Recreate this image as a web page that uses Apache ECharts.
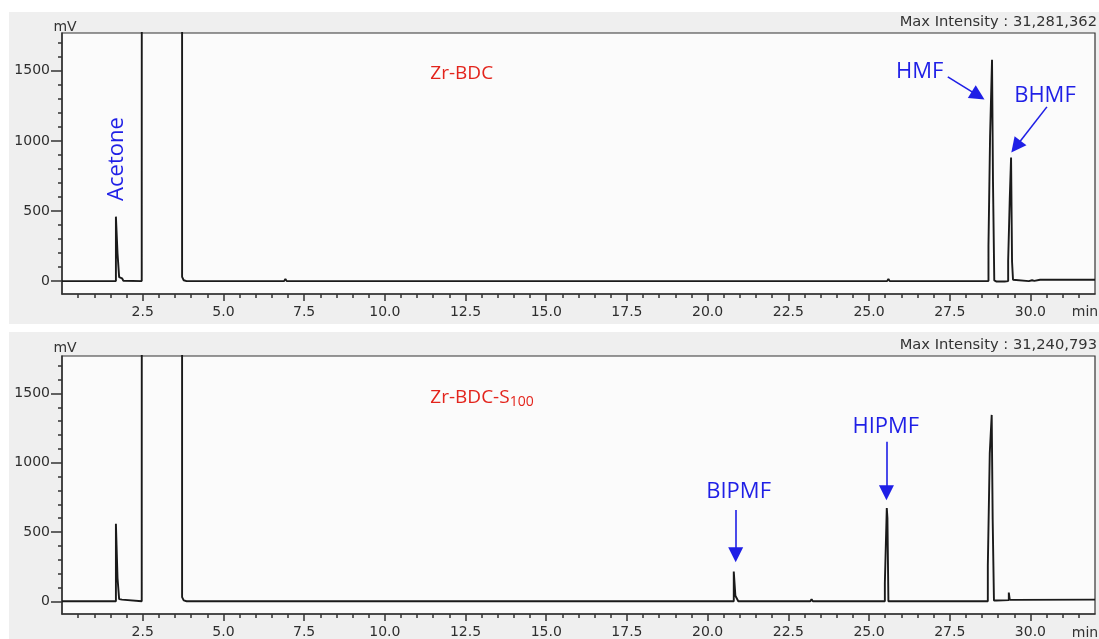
<!DOCTYPE html>
<html>
<head>
<meta charset="utf-8">
<title>Chromatograms: Zr-BDC and Zr-BDC-S100</title>
<script src="https://cdn.jsdelivr.net/npm/echarts@6/dist/echarts.min.js"></script>
<style>
  html, body { margin: 0; padding: 0; background: #ffffff; }
  #chart { width: 1099px; height: 639px; }
</style>
</head>
<body>
<div id="chart"></div>
<script>
// Detector signal (mV) against retention time (min) for each catalyst run.
// The solvent peak (2.5 - 3.7 min) runs far off scale and is clipped by the frame.
const zrBdcTrace = [
  [0, 0], [1.67, 0], [1.67, 460], [1.72, 458], [1.72, 198], [1.77, 196], [1.77, 28],
  [1.80, 22], [1.86, 20], [1.90, 3], [1.95, 0], [2.47, 0], [2.47, 788], [2.51, 792],
  [2.51, 30000], [3.72, 30000], [3.72, 30], [3.77, 6], [3.86, 0], [4.43, 0], [4.47, 10],
  [4.51, 0], [6.88, 0], [6.92, 16], [6.96, 0], [17.31, 0], [17.35, 8], [17.39, 0],
  [22.49, 0], [22.53, 5], [22.57, 0], [24.77, 0], [24.81, 8], [24.85, 0], [25.56, 0],
  [25.60, 16], [25.64, 0], [28.70, 0], [28.70, 250], [28.75, 250], [28.75, 1036],
  [28.81, 1036], [28.81, 1579], [28.84, 1579], [28.84, 709], [28.88, 705], [28.88, 5],
  [28.95, -3], [29.20, -3], [29.31, 0], [29.31, 145], [29.36, 145], [29.36, 591],
  [29.40, 591], [29.40, 881], [29.43, 881], [29.43, 140], [29.46, 138], [29.46, 10],
  [29.50, 0], [29.95, 0], [30.05, 6], [30.12, 2], [30.30, 10], [32, 10]
];

const zrBdcS100Trace = [
  [0, 0], [1.13, 0], [1.17, 10], [1.21, 0], [1.67, 0], [1.67, 560], [1.72, 556],
  [1.72, 168], [1.77, 165], [1.77, 15], [1.86, 12], [1.91, 0], [2.47, 0], [2.47, 800],
  [2.51, 805], [2.51, 30000], [3.72, 30000], [3.72, 30], [3.77, 6], [3.86, 0],
  [4.43, 0], [4.47, 8], [4.51, 0], [17.33, 0], [17.37, 6], [17.41, 0], [19.01, 0],
  [19.05, 10], [19.09, 0], [20.81, 0], [20.81, 215], [20.86, 212], [20.86, 40],
  [20.92, 35], [20.95, 0], [22.54, 0], [22.58, 7], [22.62, 0], [23.18, 0], [23.22, 15],
  [23.26, 0], [23.71, 0], [23.75, 9], [23.79, 0], [25.49, 0], [25.49, 132], [25.55, 132],
  [25.55, 673], [25.57, 601], [25.60, 601], [25.60, 0], [28.68, 0],
  [28.68, 259], [28.74, 259], [28.74, 1069], [28.80, 1069], [28.80, 1345], [28.83, 1345],
  [28.83, 594], [28.87, 594], [28.87, 5], [28.95, 5], [29.33, 8], [29.33, 63],
  [29.36, 50], [29.36, 10], [29.50, 10], [32, 12]
];

const maxIntensity = ['31,281,362', '31,240,793'];
const timeTicks = [2.5, 5, 7.5, 10, 12.5, 15, 17.5, 20, 22.5, 25, 27.5, 30];
const signalTicks = [0, 500, 1000, 1500];

// minor ticks: every 0.5 min and every 100 mV between the labelled ones
const timeMinorTicks = [];
for (let i = 1; i < 64; i++) { if (i % 5 !== 0) timeMinorTicks.push(i / 2); }
const signalMinorTicks = [];
for (let i = 1; i <= 17; i++) { if (i % 5 !== 0) signalMinorTicks.push(i * 100); }

const INK = '#1a1a1a';
const AXIS = '#333333';
const BLUE = '#1f1fe6';
const RED = '#e3241c';
const AX_FONT = 'DejaVu Sans';
const NOTE_FONT = 'Open Sans';

const chart = echarts.init(document.getElementById('chart'), null, { renderer: 'canvas' });

const gridBoxes = [
  { left: 62, top: 33, width: 1033, height: 261 },
  { left: 62, top: 356, width: 1033, height: 258 }
];

function timeAxes(gi) {
  return [
    {
      gridIndex: gi, type: 'value', min: 0, max: 32, position: 'bottom',
      axisLine: { show: true, onZero: false, lineStyle: { color: AXIS, width: 1.5 } },
      axisTick: { show: true, customValues: timeTicks, length: 7, lineStyle: { color: AXIS, width: 1.5 } },
      axisLabel: {
        customValues: timeTicks, formatter: v => v.toFixed(1), margin: 11,
        color: '#2e2e2e', fontSize: 14, fontFamily: AX_FONT
      },
      splitLine: { show: false }
    },
    {
      gridIndex: gi, type: 'value', min: 0, max: 32, position: 'bottom',
      axisLine: { show: false, onZero: false },
      axisTick: { show: true, customValues: timeMinorTicks, length: 4, lineStyle: { color: AXIS, width: 1.5 } },
      axisLabel: { show: false },
      splitLine: { show: false }
    }
  ];
}

function signalAxes(gi) {
  return [
    {
      gridIndex: gi, type: 'value', min: -92, max: 1770, position: 'left',
      axisLine: { show: true, onZero: false, lineStyle: { color: AXIS, width: 1.5 } },
      axisTick: { show: true, customValues: signalTicks, length: 11, lineStyle: { color: AXIS, width: 1.5 } },
      axisLabel: {
        customValues: signalTicks, formatter: v => String(v), margin: 12,
        color: '#2e2e2e', fontSize: 14, fontFamily: AX_FONT
      },
      splitLine: { show: false }
    },
    {
      gridIndex: gi, type: 'value', min: -92, max: 1770, position: 'left',
      axisLine: { show: false, onZero: false },
      axisTick: { show: true, customValues: signalMinorTicks, length: 4, lineStyle: { color: AXIS, width: 1.5 } },
      axisLabel: { show: false },
      splitLine: { show: false }
    }
  ];
}

function note(text, coord, size, color, extra) {
  return {
    coord: coord, symbol: 'circle', symbolSize: 1,
    itemStyle: { color: 'rgba(0,0,0,0)' },
    label: Object.assign({
      show: true, position: 'inside', formatter: text,
      color: color, fontSize: size, fontFamily: NOTE_FONT
    }, extra || {})
  };
}

function arrows(lines) {
  return {
    silent: true, animation: false,
    symbol: ['none', 'triangle'], symbolSize: 15,
    lineStyle: { color: BLUE, width: 1.6, type: 'solid' },
    itemStyle: { color: BLUE },
    label: { show: false },
    emphasis: { disabled: true },
    data: lines.map(([a, b]) => [{ coord: a }, { coord: b }])
  };
}

function traceSeries(data, axisIdx, notes, arrowLines) {
  return {
    type: 'line', xAxisIndex: axisIdx, yAxisIndex: axisIdx,
    data: data, showSymbol: false, symbol: 'none', clip: true,
    lineStyle: { color: INK, width: 1.9 },
    emphasis: { disabled: true },
    animation: false,
    markPoint: { silent: true, animation: false, data: notes },
    markLine: arrows(arrowLines)
  };
}

function panelText(x, y, text, align, size) {
  return {
    type: 'text', x: x, y: y, z: 10,
    style: {
      text: text, fill: '#333333', font: size + 'px "' + AX_FONT + '"',
      textAlign: align, textVerticalAlign: 'middle'
    }
  };
}

const option = {
  backgroundColor: '#ffffff',
  animation: false,
  graphic: [
    { type: 'rect', z: -10, shape: { x: 9, y: 12, width: 1090, height: 312 }, style: { fill: '#efefef' } },
    { type: 'rect', z: -10, shape: { x: 9, y: 332, width: 1090, height: 307 }, style: { fill: '#efefef' } },
    panelText(65, 27, 'mV', 'center', 14),
    panelText(65, 348, 'mV', 'center', 14),
    panelText(1085, 312, 'min', 'center', 14),
    panelText(1085, 633, 'min', 'center', 14),
    panelText(1097, 22, 'Max Intensity : ' + maxIntensity[0], 'right', 14.7),
    panelText(1097, 345, 'Max Intensity : ' + maxIntensity[1], 'right', 14.7)
  ],
  grid: gridBoxes.map(g => Object.assign({
    show: true, backgroundColor: '#fbfbfb', borderColor: AXIS, borderWidth: 1.2,
    containLabel: false
  }, g)),
  xAxis: timeAxes(0).concat(timeAxes(1)),
  yAxis: signalAxes(0).concat(signalAxes(1)),
  series: [
    traceSeries(zrBdcTrace, 0, [
      note('Acetone', [1.71, 871], 22, BLUE, { rotate: 90 }),
      note('Zr-BDC', [11.41, 1479], 19, RED, { align: 'left' }),
      note('HMF', [26.57, 1493], 22, BLUE),
      note('BHMF', [30.45, 1321], 22, BLUE)
    ], [
      [[27.44, 1457], [28.38, 1323]],
      [[30.51, 1243], [29.55, 959]]
    ]),
    traceSeries(zrBdcS100Trace, 2, [
      note('{a|Zr-BDC-S}{s|100}', [11.41, 1473], 19, RED, {
        align: 'left',
        rich: {
          a: { fontSize: 19, fontFamily: NOTE_FONT, color: RED },
          s: { fontSize: 14, fontFamily: NOTE_FONT, color: RED, padding: [9, 0, 0, 0] }
        }
      }),
      note('BIPMF', [20.96, 788], 22, BLUE),
      note('HIPMF', [25.52, 1257], 22, BLUE)
    ], [
      [[20.87, 658], [20.87, 335]],
      [[25.54, 1151], [25.54, 783]]
    ])
  ]
};

chart.setOption(option);
</script>
</body>
</html>
